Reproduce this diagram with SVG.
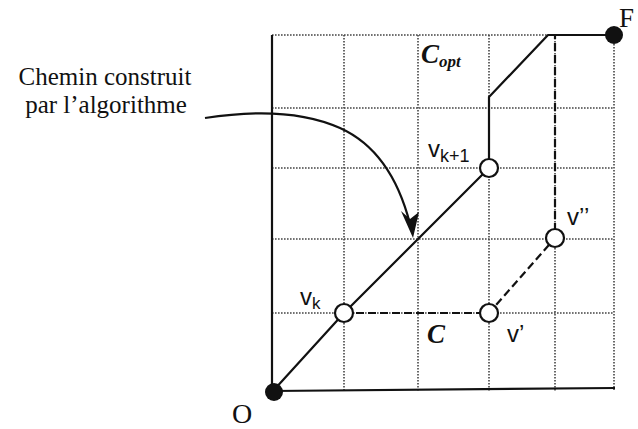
<svg xmlns="http://www.w3.org/2000/svg" width="638" height="429" viewBox="0 0 638 429">
<style>
.grid{stroke:#444;stroke-width:1.6;stroke-dasharray:1.6 1.4;fill:none}
.solid{stroke:#111;stroke-width:2.2;fill:none;stroke-linejoin:round}
.dash{stroke:#111;stroke-width:2.2;fill:none;stroke-dasharray:8 4}
.serif{font-family:"Liberation Serif","Times New Roman",serif;fill:#111}
.sans{font-family:"Liberation Sans",Arial,sans-serif;fill:#111}
.open{fill:#fff;stroke:#111;stroke-width:2.2}
.dot{fill:#111}
</style>
<rect width="638" height="429" fill="#fff"/>
<g id="grid">
<line class="grid" x1="272" y1="35" x2="614" y2="35"/>
<line class="grid" x1="272" y1="108" x2="614" y2="108"/>
<line class="grid" x1="272" y1="168" x2="614" y2="168"/>
<line class="grid" x1="272" y1="239" x2="614" y2="239"/>
<line class="grid" x1="272" y1="313" x2="614" y2="313"/>
<line class="grid" x1="344" y1="35" x2="344" y2="392"/>
<line class="grid" x1="418" y1="35" x2="418" y2="392"/>
<line class="grid" x1="489" y1="35" x2="489" y2="392"/>
<line class="grid" x1="555" y1="35" x2="555" y2="392"/>
<line class="grid" x1="614" y1="35" x2="614" y2="390"/>
</g>
<g id="axes">
<line class="solid" x1="272" y1="35" x2="272" y2="392"/>
<line class="solid" x1="272" y1="391" x2="615" y2="388"/>
</g>
<g id="connectors">
<polyline id="copt-path" class="solid" points="273,391 344,313 489,168 489,97 548,35 614,35"/>
<polyline id="c-path" class="dash" points="344,313 489,313 555,238 555,36"/>
<path id="arrow" class="solid" d="M205,118 C250,111 300,110 340,128 S400,185 410,224"/>
<polygon class="dot" points="401,211 413,238 419,212 410,219"/>
</g>
<g id="node-O">
<circle class="dot" cx="274" cy="392" r="9"/>
<text class="serif" x="242" y="423" font-size="28" text-anchor="middle">O</text>
</g>
<g id="node-F">
<circle class="dot" cx="614" cy="35" r="9"/>
<text class="serif" x="619" y="27" font-size="27">F</text>
</g>
<g id="node-vk">
<circle class="open" cx="344" cy="313" r="9"/>
<text class="sans" x="300" y="305" font-size="24">v<tspan font-size="17" dy="4">k</tspan></text>
</g>
<g id="node-vk1">
<circle class="open" cx="489" cy="168" r="9"/>
<text class="sans" x="428" y="157" font-size="24">v<tspan font-size="18" dy="5">k+1</tspan></text>
</g>
<g id="node-v1">
<circle class="open" cx="489" cy="313" r="9"/>
<text class="sans" x="507" y="342" font-size="24">v’</text>
</g>
<g id="node-v2">
<circle class="open" cx="555" cy="238" r="9"/>
<text class="sans" x="567" y="225" font-size="24">v’’</text>
</g>
<g id="labels">
<text class="serif" x="421" y="63" font-size="27" font-weight="bold" font-style="italic">C<tspan font-size="17" dy="4">opt</tspan></text>
<text class="serif" x="427" y="343" font-size="27" font-weight="bold" font-style="italic">C</text>
<text class="serif" x="105" y="85" font-size="25" text-anchor="middle">Chemin construit</text>
<text class="serif" x="106" y="113" font-size="25" text-anchor="middle">par l’algorithme</text>
</g>
</svg>
